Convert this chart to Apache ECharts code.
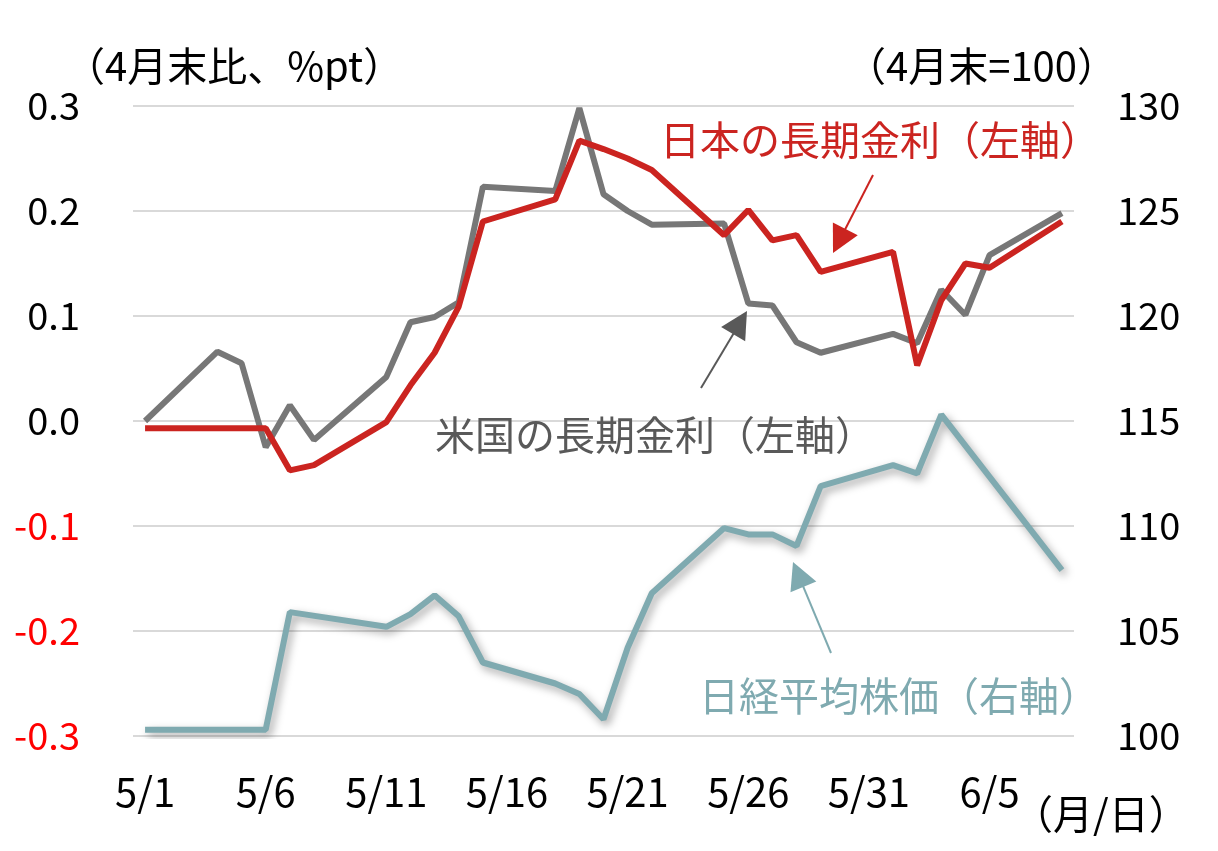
<!DOCTYPE html>
<html>
<head>
<meta charset="utf-8">
<script src="https://cdn.jsdelivr.net/npm/echarts@6/dist/echarts.min.js"></script>
<style>
html,body{margin:0;padding:0;background:#fff;}
#chart{width:1218px;height:851px;}
</style>
</head>
<body>
<div id="chart"></div>
<script>
// ---- data ----
var dates = ['5/1','5/2','5/3','5/4','5/5','5/6','5/7','5/8','5/9','5/10',
  '5/11','5/12','5/13','5/14','5/15','5/16','5/17','5/18','5/19','5/20',
  '5/21','5/22','5/23','5/24','5/25','5/26','5/27','5/28','5/29','5/30',
  '5/31','6/1','6/2','6/3','6/4','6/5','6/6','6/7','6/8'];

var usYield = [0.000,null,null,0.066,0.055,-0.025,0.015,-0.018,null,null,
  0.042,0.094,0.099,0.113,0.223,null,null,0.219,0.298,0.216,
  0.200,0.187,null,null,0.188,0.112,0.110,0.075,0.065,null,
  null,0.083,0.074,0.125,0.101,0.158,null,null,0.198];

var jpYield = [-0.007,null,null,-0.007,-0.007,-0.007,-0.047,-0.042,null,null,
  -0.001,0.034,0.065,0.109,0.190,null,null,0.211,0.267,0.259,
  0.250,0.239,null,null,0.177,0.201,0.172,0.177,0.142,null,
  null,0.161,0.053,0.115,0.150,0.146,null,null,0.190];

var nikkei = [100.3,null,null,100.3,100.3,100.3,105.9,null,null,null,
  105.2,105.8,106.7,105.7,103.5,null,null,102.5,102.0,100.8,
  104.2,106.8,null,null,109.9,109.6,109.6,109.05,111.9,null,
  null,112.9,112.5,115.3,null,null,null,null,107.9];

var leftTicks = {min:-0.3, max:0.3, interval:0.1};
var rightTicks = {min:100, max:130, interval:5};

// ---- styles ----
var FONT = '"Noto Sans CJK JP", "Noto Sans", sans-serif';
var RED = '#CB2420', GRAY = '#777777', GRAYTXT = '#595959', TEAL = '#7FAAB0';

function arrow(x1, y1, x2, y2, color, headLen, headHalf) {
  var dx = x2 - x1, dy = y2 - y1, L = Math.sqrt(dx*dx + dy*dy);
  var ux = dx / L, uy = dy / L, px = -uy, py = ux;
  var bx = x2 - ux * headLen, by = y2 - uy * headLen;
  return [
    {type:'line', shape:{x1:x1, y1:y1, x2:bx + ux*2, y2:by + uy*2}, style:{stroke:color, lineWidth:2}, z:10},
    {type:'polygon', shape:{points:[[x2,y2],[bx+px*headHalf, by+py*headHalf],[bx-px*headHalf, by-py*headHalf]]}, style:{fill:color}, z:10}
  ];
}

function txt(x, y, s, color, size, align) {
  return {type:'text', x:x, y:y, z:10, style:{text:s, fill:color, font: size + 'px ' + FONT, textAlign: align || 'left', textVerticalAlign:'middle'}};
}

var graphics = [].concat(
  [txt(65, 66, '（4月末比、%pt）', '#000', 40),
   txt(846, 66, '（4月末=100）', '#000', 40),
   txt(1013, 814, '（月/日）', '#000', 40),
   txt(660, 140, '日本の長期金利（左軸）', RED, 40),
   txt(435, 435, '米国の長期金利（左軸）', GRAYTXT, 40),
   txt(699, 696, '日経平均株価（右軸）', TEAL, 40)],
  arrow(873, 175, 833, 253, RED, 27, 14),
  arrow(701, 388, 747, 311, GRAYTXT, 27, 14),
  arrow(831, 653, 793, 562, TEAL, 27, 14)
);

var chart = echarts.init(document.getElementById('chart'), null, {renderer:'canvas'});
chart.setOption({
  animation:false,
  backgroundColor:'#fff',
  textStyle:{fontFamily:FONT},
  grid:{left:133, right:144, top:106, bottom:115, containLabel:false},
  xAxis:{
    type:'category', data:dates, boundaryGap:true,
    axisLine:{show:false}, axisTick:{show:false},
    axisLabel:{interval:4, color:'#000', fontSize:40, fontFamily:FONT, margin:36}
  },
  yAxis:[{
    type:'value', min:leftTicks.min, max:leftTicks.max, interval:leftTicks.interval,
    axisLine:{show:false}, axisTick:{show:false},
    splitLine:{lineStyle:{color:'#D9D9D9', width:2}},
    axisLabel:{margin:53, fontSize:38, fontFamily:FONT,
      formatter:function(v){ var s = (Math.round(v*10)/10).toFixed(1); return v < -1e-9 ? '{n|' + s + '}' : '{p|' + s + '}'; },
      rich:{p:{color:'#000', fontSize:38, fontFamily:FONT}, n:{color:'#FF0000', fontSize:38, fontFamily:FONT}}}
  },{
    type:'value', min:rightTicks.min, max:rightTicks.max, interval:rightTicks.interval, position:'right',
    axisLine:{show:false}, axisTick:{show:false}, splitLine:{show:false},
    axisLabel:{margin:43, color:'#000', fontSize:38, fontFamily:FONT}
  }],
  series:[
    {name:'日経平均株価', type:'line', yAxisIndex:1, data:nikkei, connectNulls:true, symbol:'none', z:2,
     lineStyle:{color:TEAL, width:6, shadowColor:'rgba(0,0,0,0.35)', shadowBlur:8, shadowOffsetX:3, shadowOffsetY:4}},
    {name:'米国の長期金利', type:'line', yAxisIndex:0, data:usYield, connectNulls:true, symbol:'none', z:3,
     lineStyle:{color:GRAY, width:6}},
    {name:'日本の長期金利', type:'line', yAxisIndex:0, data:jpYield, connectNulls:true, symbol:'none', z:4,
     lineStyle:{color:RED, width:6}}
  ],
  graphic:graphics
});
</script>
</body>
</html>
